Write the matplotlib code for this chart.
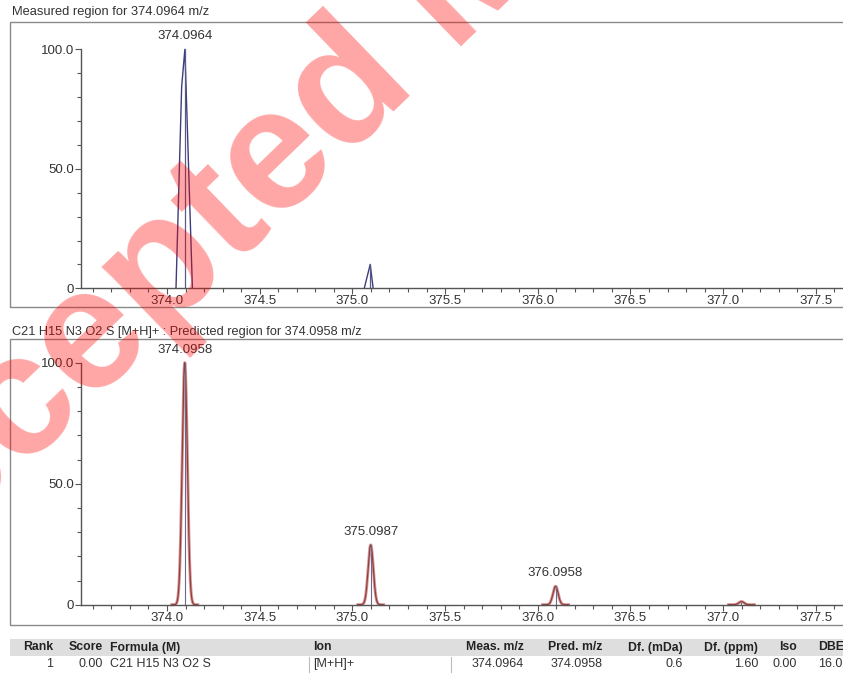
import numpy as np
import matplotlib
matplotlib.use("Agg")
import matplotlib.pyplot as plt
from matplotlib.patches import Rectangle
from matplotlib.ticker import MultipleLocator, FixedLocator, FixedFormatter

plt.rcParams['font.family'] = ['Liberation Sans', 'DejaVu Sans']

W, H = 843, 674

# measured profile (m/z, relative intensity) for each isotope cluster
meas_mz_0 = [374.0485, 374.0790, 374.0964, 374.1370]
meas_int_0 = [0.0, 84.3, 100.0, 0.0]
meas_mz_1 = [375.0640, 375.0960, 375.1120]
meas_int_1 = [0.0, 10.0, 0.0]
meas_centroid_mz = [374.0964, 375.0960]
meas_centroid_int = [100.0, 10.0]
meas_label = "374.0964"

# predicted isotope pattern for C21 H15 N3 O2 S [M+H]+
pred_mz = [374.0958, 375.0987, 376.0958, 377.0985]
pred_int = [100.0, 24.7, 7.6, 1.3]
pred_labels = ["374.0958", "375.0987", "376.0958", None]
peak_sigma = 0.014

# result table
table_header = ["Rank", "Score", "Formula (M)", "Ion", "Meas. m/z", "Pred. m/z",
                "Df. (mDa)", "Df. (ppm)", "Iso", "DBE"]
table_row = ["1", "0.00", "C21 H15 N3 O2 S", "[M+H]+", "374.0964", "374.0958",
             "0.6", "1.60", "0.00", "16.0"]
col_x = [53, 103, 110, 313, 524, 603, 683, 758, 797, 818]
col_ha = ["right", "right", "left", "left", "right", "right", "right", "right", "right", "left"]

XLIM = (373.5361, 377.6462)
TXT = '#333333'


def fx(px):
    return px / W


def fy(py):
    return 1 - py / H


def make_axes(fig, y_zero, y_hundred):
    ax = fig.add_axes([fx(81), fy(y_zero), fx(W - 81), (y_zero - y_hundred) / H])
    ax.set_xlim(*XLIM)
    ax.set_ylim(0, 100)
    ax.patch.set_visible(False)
    for s in ['top', 'right']:
        ax.spines[s].set_visible(False)
    ax.spines['left'].set_bounds(0, 100)
    for s in ['left', 'bottom']:
        ax.spines[s].set_color('#555555')
        ax.spines[s].set_linewidth(1.0)
    ax.xaxis.set_major_locator(MultipleLocator(0.5))
    ax.xaxis.set_minor_locator(MultipleLocator(0.1))
    ax.xaxis.set_major_formatter(plt.FormatStrFormatter('%.1f'))
    ax.yaxis.set_major_locator(FixedLocator([0, 50, 100]))
    ax.yaxis.set_major_formatter(FixedFormatter(['0', '50.0', '100.0']))
    ax.yaxis.set_minor_locator(MultipleLocator(10))
    ax.tick_params(axis='both', which='major', length=4, width=0.8, color='#555555',
                   labelsize=9.5, labelcolor=TXT, pad=1)
    ax.tick_params(axis='both', which='minor', length=3, width=0.8, color='#555555')
    return ax


fig = plt.figure(figsize=(W / 100, H / 100), dpi=100)

# panel frames
for top, bottom in [(22.5, 306.7), (339.3, 624.5)]:
    fig.add_artist(Rectangle((fx(10), fy(bottom)), fx(W + 20), (bottom - top) / H,
                             transform=fig.transFigure, fill=False,
                             edgecolor='#8a8a8a', linewidth=1.0))

fig.text(fx(12), fy(12.5), "Measured region for 374.0964 m/z", fontsize=9.3,
         color=TXT, ha='left', va='center')
fig.text(fx(12), fy(331.5), "C21 H15 N3 O2 S [M+H]+ : Predicted region for 374.0958 m/z",
         fontsize=9.2, color=TXT, ha='left', va='center')

# measured spectrum
ax1 = make_axes(fig, 288.3, 49.3)
for mz, inten in [(meas_mz_0, meas_int_0), (meas_mz_1, meas_int_1)]:
    ax1.plot(mz, inten, color='#3d3d7a', linewidth=1.0, clip_on=False)
ax1.vlines(meas_centroid_mz, 0, meas_centroid_int, color='#5a5a8a', linewidth=0.9)
ax1.annotate(meas_label, (meas_centroid_mz[0], meas_centroid_int[0]),
             xytext=(0, 5), textcoords='offset points', ha='center', va='bottom',
             fontsize=9.5, color=TXT, annotation_clip=False)

# predicted spectrum
ax2 = make_axes(fig, 604.7, 362.7)
for mz, inten, lab in zip(pred_mz, pred_int, pred_labels):
    xs = np.linspace(mz - 0.07, mz + 0.07, 141)
    ys = inten * np.exp(-0.5 * ((xs - mz) / peak_sigma) ** 2)
    ax2.plot(xs, ys, color='#d99a9a', linewidth=2.2, clip_on=False)
    ax2.plot(xs, ys, color='#8e3f3f', linewidth=0.9, clip_on=False)
    ax2.vlines(mz, 0, inten, color='#6a6a8c', linewidth=0.8)
    if lab:
        ax2.annotate(lab, (mz, inten), xytext=(0, 5), textcoords='offset points',
                     ha='center', va='bottom', fontsize=9.5, color=TXT,
                     annotation_clip=False)

# result table
fig.add_artist(Rectangle((fx(10), fy(656)), fx(W), 17 / H, transform=fig.transFigure,
                         facecolor='#dedede', edgecolor='none'))
for x, ha, h, v in zip(col_x, col_ha, table_header, table_row):
    fig.text(fx(x), fy(647.5), h, fontsize=8.8, color='#222222', ha=ha, va='center',
             fontweight='bold')
    fig.text(fx(x), fy(664), v, fontsize=9, color=TXT, ha=ha, va='center')
for x in [309, 451]:
    fig.add_artist(plt.Line2D([fx(x), fx(x)], [fy(657), fy(672)], transform=fig.transFigure,
                              color='#bbbbbb', linewidth=0.8))

# watermark
fig.text(fx(-139), fy(626), "Accepted Manuscript", rotation=44, rotation_mode='anchor',
         ha='left', va='baseline', fontsize=124, fontweight='bold',
         color='#ff0000', alpha=0.35, zorder=20)

fig.savefig("out.png", dpi=100)
